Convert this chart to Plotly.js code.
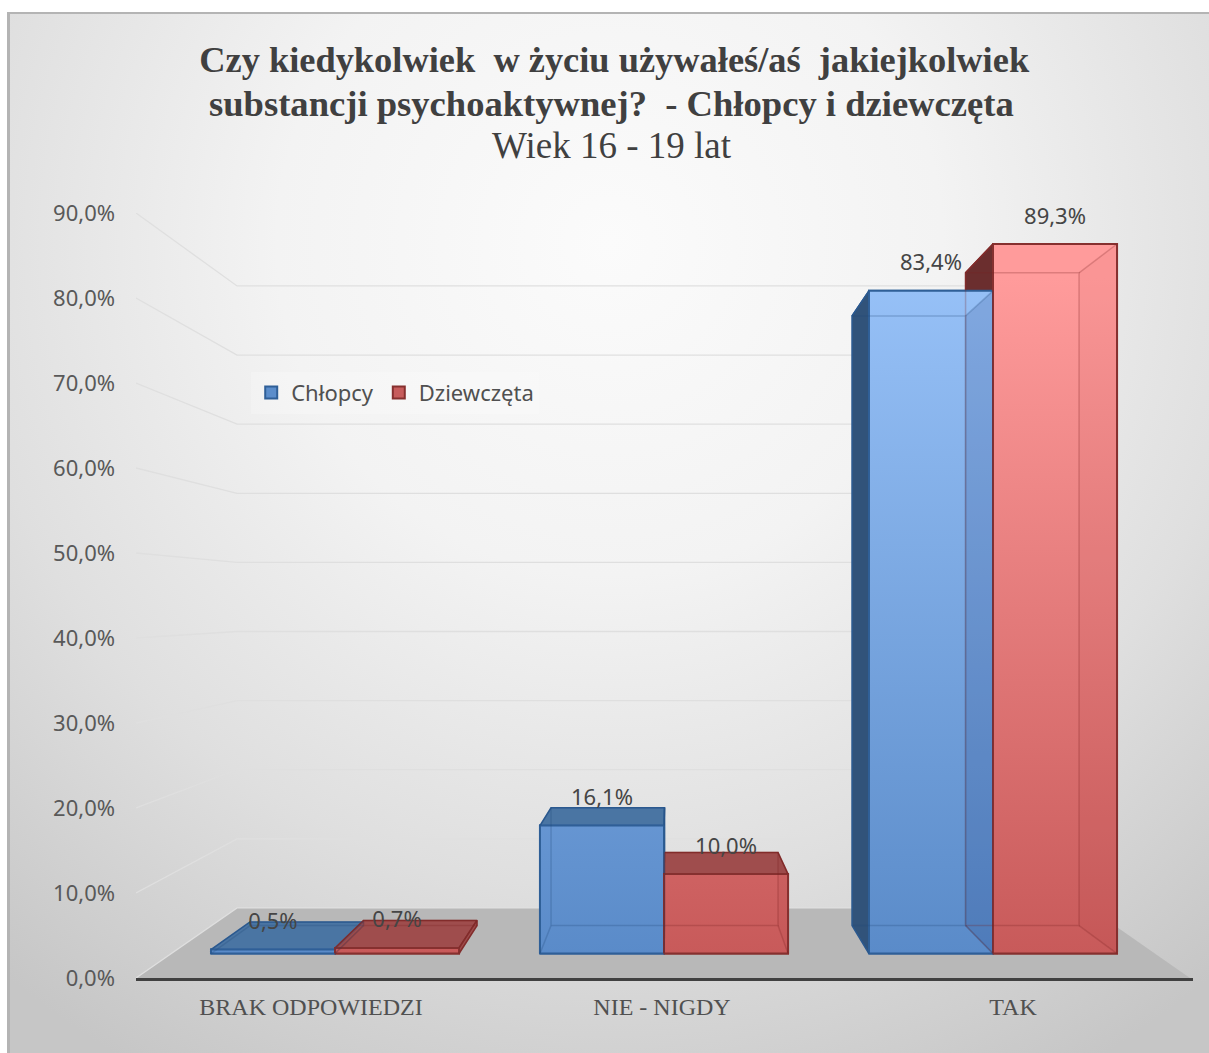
<!DOCTYPE html>
<html><head><meta charset="utf-8">
<script src="https://cdn.plot.ly/plotly-3.0.1.min.js"></script>
<style>
html,body{margin:0;padding:0;background:#fff;overflow:hidden}
#frame{position:absolute;left:7px;top:12px;width:1202px;height:1041px;box-sizing:border-box;border:solid #b4b4b4;border-width:2px 0 0 3px;
background:radial-gradient(ellipse 950px 950px at 50% 22%,#fbfbfb 0%,#f3f3f3 35%,#dfdfdf 68%,#c6c6c6 100%)}
#chart{position:absolute;left:0;top:0;width:1209px;height:1053px}
</style></head><body>
<div id="frame"></div><div id="chart"></div>
<script>
const categories=['BRAK ODPOWIEDZI','NIE - NIGDY','TAK'];
const chlopcy=[0.5,16.1,83.4];
const dziewczeta=[0.7,10.0,89.3];
const seriesNames=['Chłopcy','Dziewczęta'];
const yTicks=[0,10,20,30,40,50,60,70,80,90];
const titleLines=['Czy kiedykolwiek  w życiu używałeś/aś  jakiejkolwiek','substancji psychoaktywnej?  - Chłopcy i dziewczęta','Wiek 16 - 19 lat'];

const serif='"Liberation Serif",serif', sans='"Noto Sans",sans-serif';
const fmt=v=>v.toFixed(1).replace('.',',')+'%';
const BAR=0.377;
// perspective of a bar's rear face, in bar-axis units
const backU=u=>0.0866+0.915*u, backV=v=>3.52+0.92*v;
// perspective of the rear wall and floor, in axis units
const wallU=u=>0.1926+0.809*u, wallV=v=>8.245+0.813*v;
const FLOOR_L=-0.4986, FLOOR_R=2.504;

const pal=[
 {name:seriesNames[0],vals:chlopcy,solid:'#5b8dcb',line:'#2f5f97',top:'#4a75a3',side:'#31537a',over:'rgba(25,50,110,0.17)',inner:'rgba(30,70,120,0.25)',grad:[[0,'#97c1f7'],[1,'#5a8bc9']]},
 {name:seriesNames[1],vals:dziewczeta,solid:'#c75c5c',line:'#86302f',top:'#9f4d4d',side:'#6b2e2e',over:'rgba(120,30,30,0.04)',inner:'rgba(120,30,30,0.25)',grad:[[0,'#ff9b9b'],[1,'#c85a5a']]}
];
const traces=[];
// floor and wall grid on the primary axes
traces.push({x:[FLOOR_L,FLOOR_R,wallU(FLOOR_R),wallU(FLOOR_L),FLOOR_L],y:[0,0,wallV(0),wallV(0),0],mode:'none',fill:'toself',fillcolor:'#b8b8b8',showlegend:false,hoverinfo:'skip'});
const gx=[],gy=[];
yTicks.forEach(t=>{gx.push(FLOOR_L,wallU(FLOOR_L),wallU(FLOOR_R),null);gy.push(t,wallV(t),wallV(t),null);});
traces.push({x:gx,y:gy,mode:'lines',line:{color:'#dfdfdf',width:1.3},showlegend:false,hoverinfo:'skip'});

// bars
pal.forEach((s,k)=>traces.push({type:'bar',name:s.name,x:[0,1,2],y:s.vals,xaxis:'x2',yaxis:'y2',marker:{color:s.solid,line:{color:s.line,width:2}},hoverinfo:'skip'}));

function poly(xs,ys,opt){
 traces.push(Object.assign({x:xs.concat(xs[0]),y:ys.concat(ys[0]),xaxis:'x2',yaxis:'y2',mode:'lines',line:{width:0},fill:'toself',showlegend:false,hoverinfo:'skip'},opt));
}
const span=(k,i)=>k===0?[i-BAR,i]:[i,i+BAR];
// top and side faces, behind the fronts
pal.forEach((s,k)=>s.vals.forEach((v,i)=>{
 const [a,b]=span(k,i);
 poly([a,b,backU(b),backU(a)],[v,v,backV(v),backV(v)],{fillcolor:s.top,line:{color:s.line,width:1.5}});
 if(backU(a)<a) poly([a,backU(a),backU(a),a],[v,backV(v),backV(0),0],{fillcolor:s.side,line:{color:s.line,width:1.5}});
 if(backU(b)>b) poly([b,backU(b),backU(b),b],[v,backV(v),backV(0),0],{fillcolor:s.top,line:{color:s.line,width:1.5}});
}));
// front faces
pal.forEach((s,k)=>s.vals.forEach((v,i)=>{
 const [a,b]=span(k,i);
 poly([a,b,b,a],[0,0,v,v],{fillgradient:{type:'vertical',colorscale:[[0,s.grad[1][1]],[1,s.grad[0][1]]],start:0,stop:85},line:{color:s.line,width:2}});
}));
// see-through rear edges
pal.forEach((s,k)=>s.vals.forEach((v,i)=>{
 const [a,b]=span(k,i);
 if(backU(b)<b) poly([b,backU(b),backU(b),b],[v,backV(v),backV(0),0],{fillcolor:s.over});
 const ix=[backU(a),backU(b),backU(b),backU(a),backU(a),null,a,backU(a),null,b,backU(b),null,a,backU(a),null,b,backU(b)];
 const iy=[backV(0),backV(0),backV(v),backV(v),backV(0),null,0,backV(0),null,0,backV(0),null,v,backV(v),null,v,backV(v)];
 traces.push({x:ix,y:iy,xaxis:'x2',yaxis:'y2',mode:'lines',line:{color:s.inner,width:1.5},showlegend:false,hoverinfo:'skip'});
}));
// value labels
const LABEL_LIFT=3.27;
pal.forEach((s,k)=>{
 traces.push({x:s.vals.map((v,i)=>(k===0?i-BAR/2:i+BAR/2)),y:s.vals.map(v=>v+LABEL_LIFT),xaxis:'x2',yaxis:'y2',mode:'text',cliponaxis:false,
  text:s.vals.map(fmt),textposition:'middle center',textfont:{family:sans,size:22,color:'#454545'},showlegend:false,hoverinfo:'skip'});
});

const layout={
 width:1209,height:1053,paper_bgcolor:'rgba(0,0,0,0)',plot_bgcolor:'rgba(0,0,0,0)',
 margin:{l:136,r:16,t:213,b:75},separators:',.',
 barmode:'group',bargap:1-2*BAR,bargroupgap:0,
 title:{text:'<b>'+titleLines[0]+'</b>',xref:'container',yref:'container',x:0.508,xanchor:'center',y:0.944,yanchor:'middle',font:{family:serif,size:36.4,color:'#404040'}},
 annotations:[
  {text:'<b>'+titleLines[1]+'</b>',xref:'paper',yref:'paper',x:0.4503,y:1.1425,xanchor:'center',yanchor:'middle',showarrow:false,font:{family:serif,size:36.6,color:'#404040'}},
  {text:titleLines[2],xref:'paper',yref:'paper',x:0.4503,y:1.0876,xanchor:'center',yanchor:'middle',showarrow:false,font:{family:serif,size:37,color:'#404040'}}
 ],
 xaxis:{range:[-0.4986,2.5128],tickmode:'array',tickvals:[0,1,2],ticktext:categories,showgrid:false,zeroline:false,showline:true,linecolor:'#404040',linewidth:3,ticks:'',ticklabelstandoff:5,tickfont:{family:serif,size:24,color:'#505050'},fixedrange:true},
 yaxis:{range:[0,90],tickmode:'array',tickvals:yTicks,ticktext:yTicks.map(fmt),showgrid:false,zeroline:false,showline:false,ticks:'',ticklabelstandoff:20,tickfont:{family:sans,size:22,color:'#595959'},fixedrange:true},
 xaxis2:{overlaying:'x',anchor:'y2',range:[-0.6049,2.6079],visible:false,fixedrange:true},
 yaxis2:{overlaying:'y',anchor:'x2',range:[-3.08,93.2],visible:false,fixedrange:true},
 showlegend:true,
 legend:{orientation:'h',x:0.109,xanchor:'left',y:0.765,yanchor:'middle',bgcolor:'rgba(255,255,255,0.22)',borderwidth:0,font:{family:sans,size:22,color:'#505050'},traceorder:'normal',itemclick:false,itemdoubleclick:false}
};
Plotly.newPlot('chart',traces,layout,{staticPlot:true,displayModeBar:false});
</script></body></html>
